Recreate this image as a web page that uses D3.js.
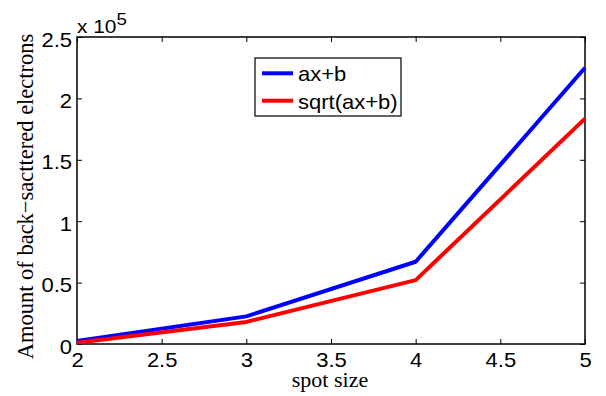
<!DOCTYPE html>
<html><head><meta charset="utf-8">
<script src="https://cdn.jsdelivr.net/npm/d3@7"></script>
<style>body{margin:0;background:#fff}</style>
</head><body>
<svg id="c" width="606" height="396"></svg>
<script>
const xValues = [2, 3, 4, 5];
const seriesLinear = [0.025, 0.225, 0.67, 2.25];   // x 10^5
const seriesSqrt = [0.01, 0.18, 0.52, 1.835];      // x 10^5
const seriesNames = ["ax+b", "sqrt(ax+b)"];
const seriesColors = ["#0000ff", "#ff0000"];
const xTicks = [2, 2.5, 3, 3.5, 4, 4.5, 5];
const yTicks = [0, 0.5, 1, 1.5, 2, 2.5];

const svg = d3.select("#c");
const L = 77, R = 585, T = 37, B = 344;
const x = d3.scaleLinear().domain([2, 5]).range([L, R]);
const y = d3.scaleLinear().domain([0, 2.5]).range([B, T]);
const fmt = d => String(d);
const SANS = "Liberation Sans, Arial, sans-serif";
const SERIF = "Liberation Serif, Times New Roman, serif";
const SX = 1.1;

// frame
svg.append("rect").attr("x", L).attr("y", T).attr("width", R - L).attr("height", B - T)
  .attr("fill", "none").attr("stroke", "#000").attr("stroke-width", 1.5);

const xa = svg.append("g").attr("transform", `translate(0,${B})`)
  .call(d3.axisBottom(x).tickValues(xTicks).tickFormat(fmt).tickSizeInner(-5).tickSizeOuter(0).tickPadding(9));
svg.append("g").attr("transform", `translate(0,${T})`)
  .call(d3.axisTop(x).tickValues(xTicks).tickFormat("").tickSizeInner(-5).tickSizeOuter(0));
const ya = svg.append("g").attr("transform", `translate(${L},0)`)
  .call(d3.axisLeft(y).tickValues(yTicks).tickFormat(fmt).tickSizeInner(-5).tickSizeOuter(0).tickPadding(5));
svg.append("g").attr("transform", `translate(${R},0)`)
  .call(d3.axisRight(y).tickValues(yTicks).tickFormat("").tickSizeInner(-5).tickSizeOuter(0));

svg.selectAll(".domain").remove();
svg.selectAll(".tick line").attr("stroke", "#000").attr("stroke-width", 1);
svg.selectAll(".tick text").attr("font-family", SANS)
  .attr("font-size", 20).attr("fill", "#000");
xa.selectAll(".tick text").attr("dy", "0.71em").attr("transform", `scale(${SX},1)`);
ya.selectAll(".tick text").attr("dy", "0.45em").attr("x", -5 / SX).attr("transform", `scale(${SX},1)`);

// exponent
const ex = svg.append("text").attr("transform", `translate(77,33) scale(${SX},1)`)
  .attr("font-family", SANS).attr("font-size", 19).attr("fill", "#000");
ex.append("tspan").text("x 10");
ex.append("tspan").attr("font-size", 17).attr("dy", -8).text("5");

// lines
const line = d3.line().x((d, i) => x(xValues[i])).y(d => y(d));
[seriesLinear, seriesSqrt].forEach((s, i) => {
  svg.append("path").datum(s).attr("d", line).attr("fill", "none")
    .attr("stroke", seriesColors[i]).attr("stroke-width", 4).attr("stroke-linejoin", "round");
});

// legend
const lg = svg.append("g");
lg.append("rect").attr("x", 255).attr("y", 58).attr("width", 146).attr("height", 58)
  .attr("fill", "#fff").attr("stroke", "#000").attr("stroke-width", 1.2);
seriesNames.forEach((n, i) => {
  const yy = 73.3 + i * 27.4;
  lg.append("line").attr("x1", 262).attr("x2", 293).attr("y1", yy).attr("y2", yy)
    .attr("stroke", seriesColors[i]).attr("stroke-width", 4);
  lg.append("text").attr("transform", `translate(298,${yy + 8}) scale(${SX},1)`).text(n)
    .attr("font-family", SANS).attr("font-size", 20).attr("fill", "#000");
});

// axis labels
svg.append("text").attr("x", 330).attr("y", 387).attr("text-anchor", "middle")
  .attr("font-family", SERIF).attr("font-size", 22).text("spot size");
svg.append("text").attr("transform", "translate(32.5,196.5) rotate(-90)").attr("text-anchor", "middle")
  .attr("font-family", SERIF).attr("font-size", 22.5)
  .text("Amount of back\u2212sacttered electrons");
</script>
</body></html>
